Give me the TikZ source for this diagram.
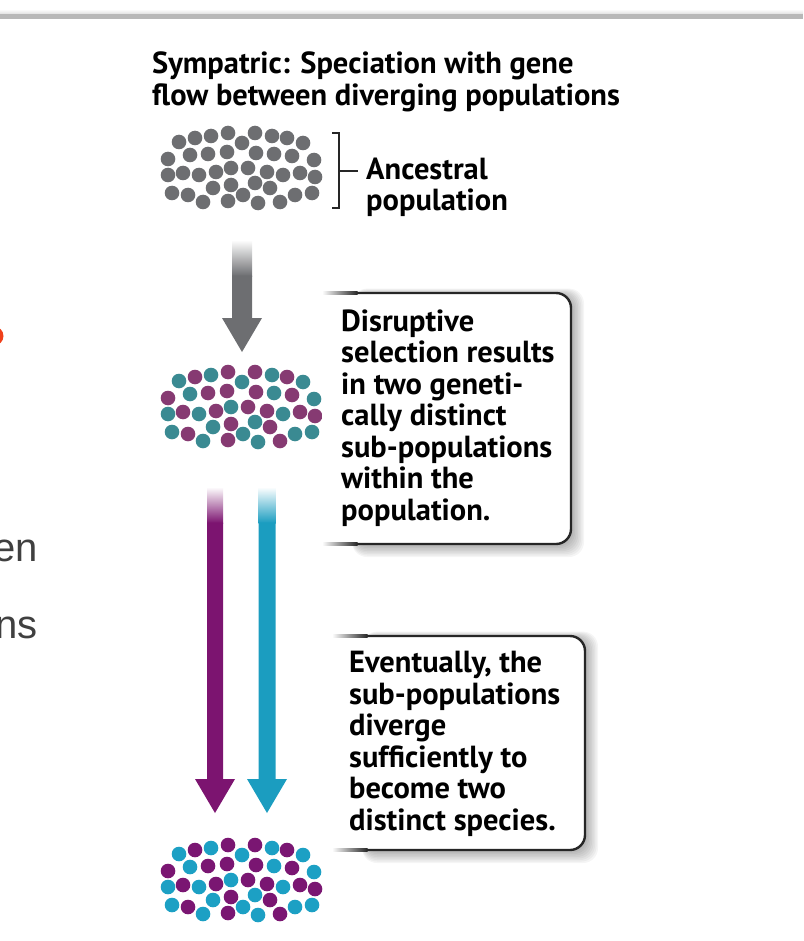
\documentclass[tikz,border=0pt]{standalone}
\usepackage{fontspec}
\setmainfont{PT Sans}
\newfontfamily\cutfont{Liberation Sans}
\usetikzlibrary{positioning,calc}
\definecolor{PopGray}{RGB}{109,110,113}
\definecolor{OldTeal}{RGB}{58,138,146}
\definecolor{OldPlum}{RGB}{134,58,114}
\definecolor{NewCyan}{RGB}{28,160,196}
\definecolor{NewPlum}{RGB}{122,22,114}
\definecolor{ArrPlum}{RGB}{124,20,112}
\definecolor{ArrCyan}{RGB}{27,157,192}
\definecolor{CutRed}{RGB}{240,64,26}
\definecolor{BarGray}{RGB}{184,184,184}
\tikzset{
	cloud/.style={inner sep=0pt,minimum width=165pt,minimum height=85pt},
	note/.style={align=left,inner sep=0pt,font=\fontsize{30.5}{31.5}\selectfont\bfseries},
	heading/.style={align=left,inner sep=0pt,font=\fontsize{30.5}{32.5}\selectfont\bfseries},
	cut/.style={inner sep=0pt,text=black!75,font=\cutfont\fontsize{40}{40}\selectfont},
	rim/.style={line width=2.4pt,draw=black!85,rounded corners=15pt},
	brk/.style={line width=2pt,draw=black!85},
}
\newcommand{\cloudspots}{-62/-26/0,-46/-30/1,-30/-32/0,-13/-35/1,1/-25/0,14/-35/1,31/-32/0,46/-30/1,62/-25/0,
	-73/-9/1,-51/-13/0,-33/-14/1,-14/-16/1,15/-15/1,33/-14/0,51/-12/1,73/-8/0,
	-73/7/0,-58/5/1,-42/7/0,-25/4/1,-10/0/0,7/0/1,26/4/1,42/7/0,59/5/1,74/9/1,
	-69/25/0,-53/27/1,-28/20/0,-10/17/1,2/27/0,14/15/0,29/20/1,54/27/0,71/25/0,
	-38/34/0,-13/33/1,17/35/0,39/34/1}
\newcommand{\popcloud}[3]{%
	\foreach \dx/\dy/\k in \cloudspots{
		\ifnum\k=0 \def\c{#2}\else\def\c{#3}\fi
		\fill[\c] ($(#1.center)+(\dx,\dy)$) circle (7.3pt);
	}}
\newcommand{\fatarrow}[4]{%
	\shade[top color=white,bottom color=#1] ($(#2)+(-#4,0)$) rectangle ($(#2)+(#4,36)$);
	\fill[#1] ($(#2)+(-#4,35.5)$) -- ($(#3)+(-#4,-34)$) -- ($(#3)+(-20,-34)$) -- (#3)
		-- ($(#3)+(20,-34)$) -- ($(#3)+(#4,-34)$) -- ($(#2)+(#4,35.5)$) -- cycle;}
\newcommand{\notebox}[4]{%
	\foreach \s in {1,...,8}
	\fill[black,opacity=0.04,rounded corners=15pt] (#1+30,#2-\s*0.8+2) rectangle (#3+\s*1.5+1,#4+\s*1.5+1);
	\fill[white,rounded corners=15pt] (#1,#2) rectangle (#3,#4);
	\draw[rim] (#1+35,#2) -- (#3,#2) -- (#3,#4) -- (#1+35,#4);
	\shade[left color=white,right color=black!85] (#1,#2-1.2) rectangle (#1+35.5,#2+1.2);
	\shade[left color=white,right color=black!85] (#1,#4-1.2) rectangle (#1+35.5,#4+1.2);}

\begin{document}
\begin{tikzpicture}[x=1pt,y=-1pt]
	\useasboundingbox (0,0) rectangle (803,941);
	\shade[top color=white,bottom color=black!12] (0,9) rectangle (803,14);
	\fill[BarGray] (0,14) rectangle (803,19.5);
	\fill[CutRed] (-6,336) circle (9.5pt);
	\node[cut,anchor=base east] (cutA) at (38,561) {en};
	\node[cut,anchor=base east] (cutB) at (38,638) {ns};
	\node[heading,anchor=base west] (title) at (152,106) {Sympatric: Speciation with gene\\flow between diverging populations};
	\node[cloud] (anc) at (241,168) {};
	\node[cloud] (mid) at (241,407) {};
	\node[cloud] (fin) at (241,880) {};
	\popcloud{anc}{PopGray}{PopGray}
	\popcloud{mid}{OldTeal}{OldPlum}
	\popcloud{fin}{NewCyan}{NewPlum}
	\coordinate (bt) at (339,133);
	\coordinate (bb) at (339,208);
	\coordinate (bm) at (339,171);
	\draw[brk] ($(bt)+(-7,0)$) -- (bt) -- (bb) -- ($(bb)+(-7,0)$);
	\draw[brk] (bm) -- ++(19,0);
	\node[note,anchor=base west] (anclbl) at (366,211) {Ancestral\\population};
	\coordinate (g0) at (242,240);
	\coordinate (g1) at (242,352);
	\coordinate (p0) at (215,487);
	\coordinate (p1) at (215,813);
	\coordinate (c0) at (267,487);
	\coordinate (c1) at (267,813);
	\fatarrow{PopGray}{g0}{g1}{10}
	\fatarrow{ArrPlum}{p0}{p1}{8}
	\fatarrow{ArrCyan}{c0}{c1}{8.5}
	\notebox{322}{293}{571}{544}
	\notebox{332}{636}{585}{850}
	\node[note,anchor=base west] (note1) at (341,520) {Disruptive\\selection results\\in two geneti-\\cally distinct\\sub-populations\\within the\\population.};
	\node[note,anchor=base west] (note2) at (349,830) {Eventually, the\\sub-populations\\diverge\\sufficiently to\\become two\\distinct species.};
\end{tikzpicture}
\end{document}
